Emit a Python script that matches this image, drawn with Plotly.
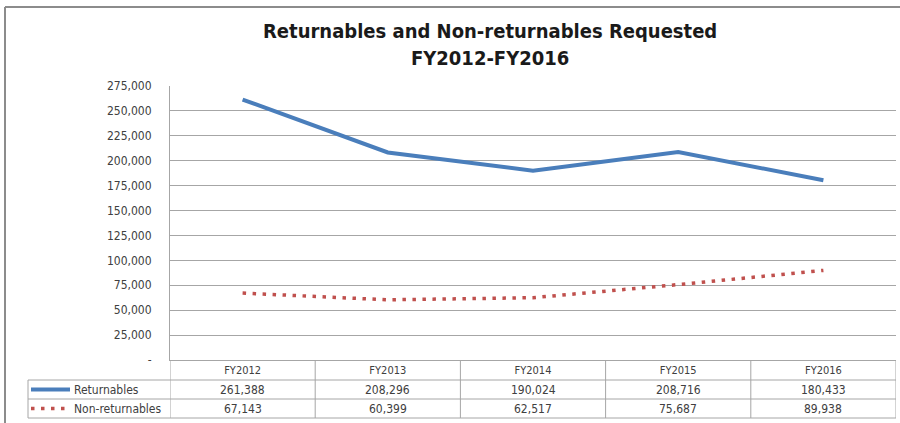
import plotly.graph_objects as go

years = ["FY2012", "FY2013", "FY2014", "FY2015", "FY2016"]
returnables = [261388, 208296, 190024, 208716, 180433]
non_returnables = [67143, 60399, 62517, 75687, 89938]
y_ticks = [0, 25000, 50000, 75000, 100000, 125000, 150000, 175000, 200000, 225000, 250000, 275000]
y_tick_text = ["-" if v == 0 else f"{v:,}" for v in y_ticks]

blue = "#4a7ebb"
red = "#c0504d"
grid = "#a6a6a6"
txt = "#404040"
font = "Liberation Sans Narrow, DejaVu Sans Condensed, Arial"

W, H = 900, 423
L, R, T, B = 170, 4, 86, 63
plot_w = W - L - R
plot_h = H - T - B


def px_x(p):
    # pixel x -> paper x
    return (p - L) / plot_w


def px_y(p):
    # pixel y -> paper y
    return (H - B - p) / plot_h


fig = go.Figure()
fig.add_trace(go.Scatter(x=years, y=returnables, mode="lines", name="Returnables",
                         line=dict(color=blue, width=4)))
fig.add_trace(go.Scatter(x=years, y=non_returnables, mode="lines", name="Non-returnables",
                         line=dict(color=red, width=3.5, dash="3.5px,6.5px")))

shapes = []
# outer chart border (cut off on right and bottom)
shapes.append(dict(type="line", xref="paper", yref="paper", x0=px_x(5), x1=px_x(905),
                   y0=px_y(7), y1=px_y(7), line=dict(color="#8c8c8c", width=2)))
shapes.append(dict(type="line", xref="paper", yref="paper", x0=px_x(5), x1=px_x(5),
                   y0=px_y(7), y1=px_y(430), line=dict(color="#8c8c8c", width=2)))

# table lines
row_lines = [380, 399, 418]
for yy in row_lines:
    shapes.append(dict(type="line", xref="paper", yref="paper", x0=px_x(28), x1=1,
                       y0=px_y(yy), y1=px_y(yy), line=dict(color=grid, width=1)))
shapes.append(dict(type="line", xref="paper", yref="paper", x0=px_x(28), x1=px_x(28),
                   y0=px_y(380), y1=px_y(418), line=dict(color=grid, width=1)))
for i in range(len(years) + 1):
    shapes.append(dict(type="line", xref="x", yref="paper", x0=i - 0.5, x1=i - 0.5,
                       y0=0, y1=px_y(418), line=dict(color=grid, width=1)))

# legend keys in table
shapes.append(dict(type="line", xref="paper", yref="paper", x0=px_x(31), x1=px_x(70),
                   y0=px_y(389.5), y1=px_y(389.5), line=dict(color=blue, width=4)))
shapes.append(dict(type="line", xref="paper", yref="paper", x0=px_x(31), x1=px_x(69),
                   y0=px_y(408.5), y1=px_y(408.5),
                   line=dict(color=red, width=3.5, dash="3.5px,6.5px")))

annotations = []
row_labels = [("Returnables", 389.5, returnables), ("Non-returnables", 408.5, non_returnables)]
for label, yy, vals in row_labels:
    annotations.append(dict(text=label, xref="paper", yref="paper", x=px_x(72), y=px_y(yy),
                            xanchor="left", yanchor="middle", showarrow=False,
                            font=dict(family=font, size=12, color=txt)))
    for yr, v in zip(years, vals):
        annotations.append(dict(text=f"{v:,}", xref="x", yref="paper", x=yr, y=px_y(yy),
                                xanchor="center", yanchor="middle", showarrow=False,
                                font=dict(family=font, size=12, color=txt)))

# title
annotations.append(dict(text="<b>Returnables and Non-returnables Requested</b>", xref="paper",
                        yref="paper", x=px_x(490), y=px_y(31), xanchor="center", yanchor="middle",
                        showarrow=False, font=dict(family=font, size=20, color="#1a1a1a")))
annotations.append(dict(text="<b>FY2012-FY2016</b>", xref="paper",
                        yref="paper", x=px_x(490), y=px_y(58), xanchor="center", yanchor="middle",
                        showarrow=False, font=dict(family=font, size=20, color="#1a1a1a")))

fig.update_layout(
    width=W, height=H,
    margin=dict(l=L, r=R, t=T, b=B, autoexpand=False),
    paper_bgcolor="white", plot_bgcolor="white",
    showlegend=False,
    shapes=shapes,
    annotations=annotations,
    font=dict(family=font, color=txt),
)
fig.update_xaxes(type="category", range=[-0.5, 4.5], showgrid=False, showline=True,
                 linecolor=grid, linewidth=1, ticks="", tickfont=dict(size=11, color=txt),
                 zeroline=False, automargin=False)
fig.update_yaxes(range=[0, 275000], tickvals=y_ticks, ticktext=y_tick_text, showgrid=True,
                 gridcolor=grid, gridwidth=1, showline=True, linecolor=grid, linewidth=1,
                 ticks="", ticklabelstandoff=15, tickfont=dict(size=12, color=txt),
                 zeroline=False, automargin=False)

# page body has a default 8px margin; drop it so the figure fills the window
fig.write_html("out.html", config={"displayModeBar": False},
               post_script="document.body.style.margin='0px';")
